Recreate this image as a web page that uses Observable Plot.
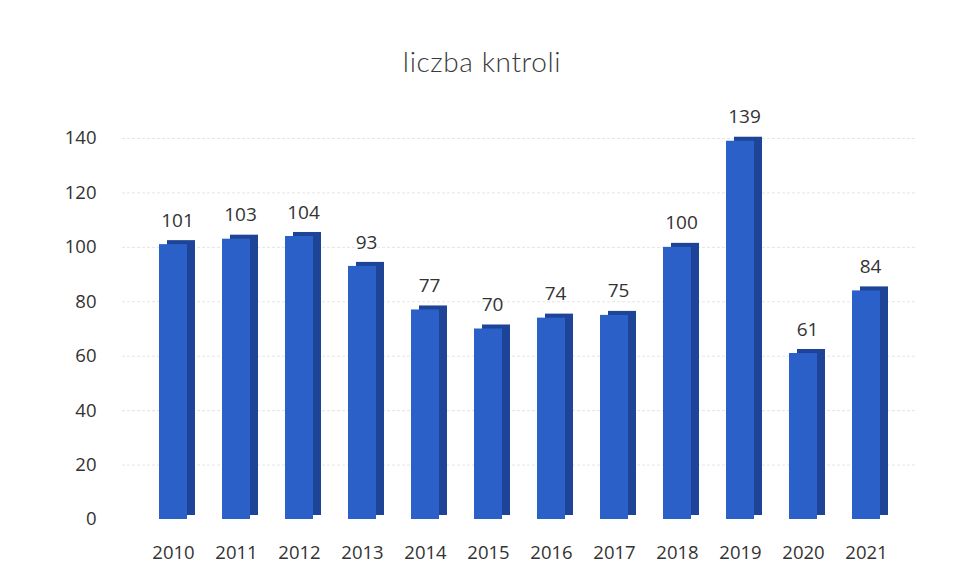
<!DOCTYPE html>
<html><head><meta charset="utf-8">
<script src="https://cdn.jsdelivr.net/npm/d3@7"></script>
<script src="https://cdn.jsdelivr.net/npm/@observablehq/plot@0.6"></script>
<style>
body{margin:0;background:#fff;font-family:"Open Sans",sans-serif;}
#title{height:100px;box-sizing:border-box;padding-top:44px;text-align:center;font-family:Lato,sans-serif;font-weight:300;font-size:28px;color:#3a3a3a;letter-spacing:0.6px;}
</style></head><body>
<div id="title">liczba kntroli</div>
<div id="chart"></div>
<script>
const years = ["2010","2011","2012","2013","2014","2015","2016","2017","2018","2019","2020","2021"];
const counts = [101,103,104,93,77,70,74,75,100,139,61,84];
const yTicks = [0,20,40,60,80,100,120,140];

const data = years.map((y,i)=>({year:y, value:counts[i]}));

const chart = Plot.plot({
  width: 964,
  height: 482,
  marginLeft: 122,
  marginRight: 48,
  marginTop: 38,
  marginBottom: 63,
  style:{fontFamily:"'Open Sans',sans-serif", fontSize:"18.5px", color:"#333", background:"#fff"},
  x:{domain: years, padding:0.56, label:null, tickSize:0, tickPadding:26},
  y:{domain:[0,140], ticks: yTicks, label:null, tickSize:0, tickPadding:26, tickFormat:d=>d},
  marks:[
    Plot.ruleY(yTicks.slice(1), {stroke:"#e4e4e4", strokeDasharray:"3,2"}),
    Plot.barY(data, {x:"year", y:"value", fill:"#1d4496", dx:8, dy:-4}),
    Plot.barY(data, {x:"year", y:"value", fill:"#2c60c9"}),
    Plot.text(data, {x:"year", y:"value", text:d=>String(d.value), dx:4, dy:-24, fill:"#333", fontSize:19})
  ]
});
document.getElementById("chart").append(chart);
</script>
</body></html>
